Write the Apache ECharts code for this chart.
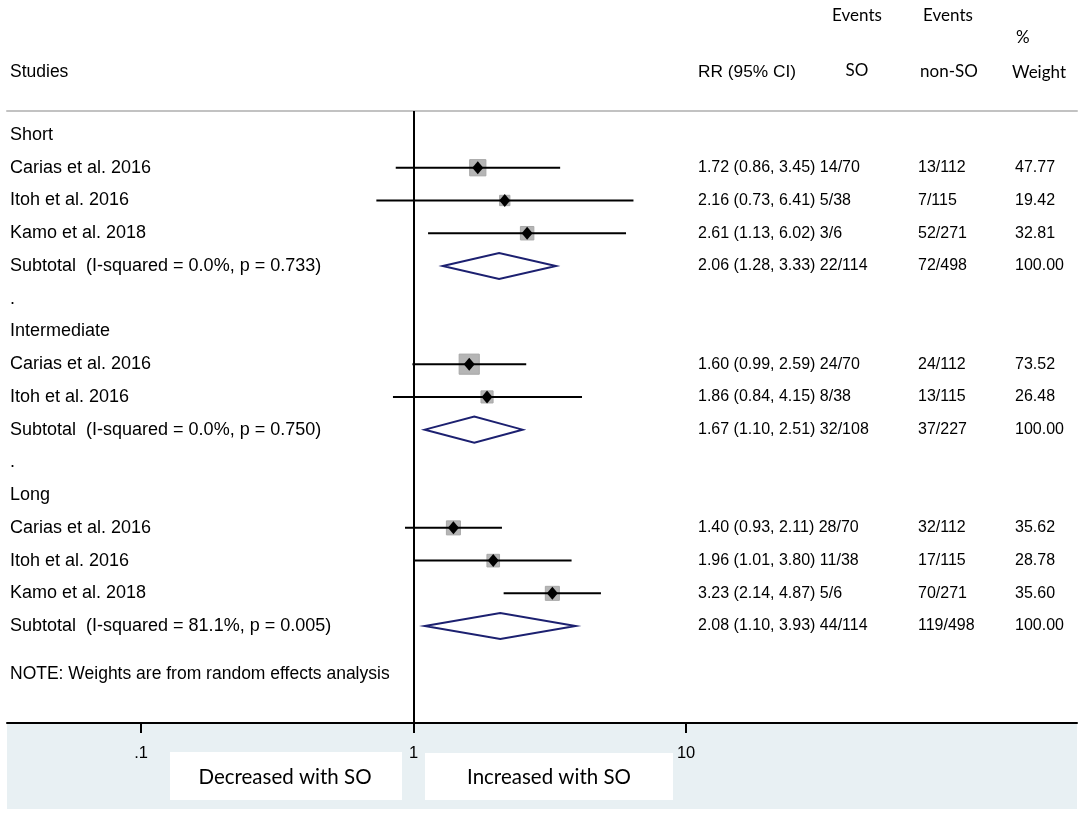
<!DOCTYPE html>
<html>
<head>
<meta charset="utf-8">
<script src="https://cdn.jsdelivr.net/npm/echarts@6/dist/echarts.min.js"></script>
<style>
html,body{margin:0;padding:0;background:#fff;}
#chart{width:1084px;height:816px;}
</style>
</head>
<body>
<div id="chart"></div>
<script>
// ---- data ----
const groupNames = ['Short', 'Intermediate', 'Long'];
const studyNames = ['Carias et al. 2016', 'Itoh et al. 2016', 'Kamo et al. 2018',
                    'Carias et al. 2016', 'Itoh et al. 2016',
                    'Carias et al. 2016', 'Itoh et al. 2016', 'Kamo et al. 2018'];
const studyGroup = [0, 0, 0, 1, 1, 2, 2, 2];
const studyRR = [1.72, 2.16, 2.61, 1.60, 1.86, 1.40, 1.96, 3.23];
const studyLo = [0.86, 0.73, 1.13, 0.99, 0.84, 0.93, 1.01, 2.14];
const studyHi = [3.45, 6.41, 6.02, 2.59, 4.15, 2.11, 3.80, 4.87];
const studyWeight = [47.77, 19.42, 32.81, 73.52, 26.48, 35.62, 28.78, 35.60];
const studyEventsSO = ['14/70', '5/38', '3/6', '24/70', '8/38', '28/70', '11/38', '5/6'];
const studyEventsNonSO = ['13/112', '7/115', '52/271', '24/112', '13/115', '32/112', '17/115', '70/271'];

const subtotalLabels = ['Subtotal  (I-squared = 0.0%, p = 0.733)',
                        'Subtotal  (I-squared = 0.0%, p = 0.750)',
                        'Subtotal  (I-squared = 81.1%, p = 0.005)'];
const subRR = [2.06, 1.67, 2.08];
const subLo = [1.28, 1.10, 1.10];
const subHi = [3.33, 2.51, 3.93];
const subEventsSO = ['22/114', '32/108', '44/114'];
const subEventsNonSO = ['72/498', '37/227', '119/498'];
const subWeight = [100.00, 100.00, 100.00];

const tickValues = [0.1, 1, 10];
const tickLabels = ['.1', '1', '10'];
const noteText = 'NOTE: Weights are from random effects analysis';
const leftLabel = 'Decreased with SO';
const rightLabel = 'Increased with SO';

// ---- build rows ----
const textRows = [];   // {row, label, ci, non, w}
const studyPoints = []; // [rr, lo, hi, row, weight]
const subPoints = [];   // [rr, lo, hi, row]
let r = 0;
const fmtCI = (a, b, c) => a.toFixed(2) + ' (' + b.toFixed(2) + ', ' + c.toFixed(2) + ')';
groupNames.forEach((g, gi) => {
  textRows.push({row: r, label: g}); r++;
  studyNames.forEach((s, i) => {
    if (studyGroup[i] !== gi) return;
    textRows.push({row: r, label: s, ci: fmtCI(studyRR[i], studyLo[i], studyHi[i]) + ' ' + studyEventsSO[i],
                   non: studyEventsNonSO[i], w: studyWeight[i].toFixed(2)});
    studyPoints.push([studyRR[i], studyLo[i], studyHi[i], r, studyWeight[i]]);
    r++;
  });
  textRows.push({row: r, label: subtotalLabels[gi], ci: fmtCI(subRR[gi], subLo[gi], subHi[gi]) + ' ' + subEventsSO[gi],
                 non: subEventsNonSO[gi], w: subWeight[gi].toFixed(2)});
  subPoints.push([subRR[gi], subLo[gi], subHi[gi], r]);
  r++;
  if (gi < groupNames.length - 1) { textRows.push({row: r, label: '.'}); r++; }
});
textRows.push({row: r + 0.47, label: noteText, note: true});

// ---- layout constants ----
const X_MIN = 0.0322, X_MAX = 272;
const Y_MIN = -0.733, Y_MAX = 17.96;
const COL_LABEL = 10, COL_CI = 698, COL_NON = 918, COL_W = 1015;
const FONT = '"Liberation Sans", Arial, sans-serif';
const FONT2 = 'Lato, "Open Sans", sans-serif';
const LABEL_SIZE = 18, DATA_SIZE = 16, NOTE_SIZE = 17.5;

const chart = echarts.init(document.getElementById('chart'), null, {renderer: 'canvas'});

const option = {
  animation: false,
  backgroundColor: '#ffffff',
  grid: {left: 7, right: 7, top: 111, bottom: 93, containLabel: false},
  xAxis: [{
    type: 'log', min: X_MIN, max: X_MAX, position: 'bottom',
    axisLine: {show: true, onZero: false, lineStyle: {color: '#000', width: 2}},
    axisTick: {show: true, customValues: tickValues, length: 10, inside: false, lineStyle: {color: '#000', width: 2}},
    axisLabel: {show: true, customValues: tickValues, margin: 22, color: '#000', fontSize: 16.5, fontFamily: FONT,
      formatter: v => { const k = tickValues.findIndex(t => Math.abs(t - v) < 1e-9); return k >= 0 ? tickLabels[k] : ''; }},
    splitLine: {show: false}, minorTick: {show: false}, minorSplitLine: {show: false}
  }, {
    type: 'log', min: X_MIN, max: X_MAX, position: 'top',
    axisLine: {show: true, onZero: false, lineStyle: {color: '#c2c2c2', width: 2}},
    axisTick: {show: false}, axisLabel: {show: false}, splitLine: {show: false}
  }],
  yAxis: {type: 'value', inverse: true, min: Y_MIN, max: Y_MAX, show: false, splitLine: {show: false}},
  graphic: [
    {type: 'rect', z: -10, shape: {x: 7, y: 724, width: 1070, height: 85}, style: {fill: '#e8f0f3'}},
    {type: 'rect', z: 5, shape: {x: 170, y: 752, width: 232, height: 48}, style: {fill: '#ffffff'}},
    {type: 'rect', z: 5, shape: {x: 425, y: 753, width: 248, height: 47}, style: {fill: '#ffffff'}},
    {type: 'text', z: 6, x: 285, y: 777, style: {text: leftLabel, fill: '#000', fontSize: 20.5, fontFamily: FONT2, align: 'center', verticalAlign: 'middle'}},
    {type: 'text', z: 6, x: 549, y: 777, style: {text: rightLabel, fill: '#000', fontSize: 20.5, fontFamily: FONT2, align: 'center', verticalAlign: 'middle'}},
    {type: 'text', x: 10, y: 72, style: {text: 'Studies', fill: '#000', fontSize: 17.5, fontFamily: FONT, verticalAlign: 'middle'}},
    {type: 'text', x: 698, y: 72, style: {text: 'RR (95% CI)', fill: '#000', fontSize: 17.3, fontFamily: FONT, verticalAlign: 'middle'}},
    {type: 'text', x: 857, y: 16, style: {text: 'Events', fill: '#000', fontSize: 17, fontFamily: FONT2, align: 'center', verticalAlign: 'middle'}},
    {type: 'text', x: 857, y: 71, style: {text: 'SO', fill: '#000', fontSize: 17, fontFamily: FONT2, align: 'center', verticalAlign: 'middle'}},
    {type: 'text', x: 948, y: 16, style: {text: 'Events', fill: '#000', fontSize: 17, fontFamily: FONT2, align: 'center', verticalAlign: 'middle'}},
    {type: 'text', x: 949, y: 72, style: {text: 'non-SO', fill: '#000', fontSize: 17, fontFamily: FONT2, align: 'center', verticalAlign: 'middle'}},
    {type: 'text', x: 1016, y: 38, style: {text: '%', fill: '#000', fontSize: 17, fontFamily: FONT2, verticalAlign: 'middle'}},
    {type: 'text', x: 1012, y: 73, style: {text: 'Weight', fill: '#000', fontSize: 17, fontFamily: FONT2, verticalAlign: 'middle'}}
  ],
  series: [
    {
      type: 'custom', name: 'text', xAxisIndex: 0, yAxisIndex: 0, silent: true, clip: false,
      data: textRows.map(t => [1, t.row]),
      renderItem: (params, api) => {
        const t = textRows[params.dataIndex];
        const y = api.coord([1, api.value(1)])[1];
        const children = [{type: 'text', x: COL_LABEL, y: y,
          style: {text: t.label, fill: '#000', fontSize: t.note ? NOTE_SIZE : LABEL_SIZE, fontFamily: FONT, verticalAlign: 'middle'}}];
        if (t.ci) children.push({type: 'text', x: COL_CI, y: y, style: {text: t.ci, fill: '#000', fontSize: DATA_SIZE, fontFamily: FONT, verticalAlign: 'middle'}});
        if (t.non) children.push({type: 'text', x: COL_NON, y: y, style: {text: t.non, fill: '#000', fontSize: DATA_SIZE, fontFamily: FONT, verticalAlign: 'middle'}});
        if (t.w) children.push({type: 'text', x: COL_W, y: y, style: {text: t.w, fill: '#000', fontSize: DATA_SIZE, fontFamily: FONT, verticalAlign: 'middle'}});
        return {type: 'group', children: children};
      }
    },
    {
      type: 'custom', name: 'studies', xAxisIndex: 0, yAxisIndex: 0, silent: true, clip: false, z: 3,
      data: studyPoints,
      renderItem: (params, api) => {
        const rr = api.value(0), lo = api.value(1), hi = api.value(2), row = api.value(3), w = api.value(4);
        const pL = api.coord([lo, row]), pR = api.coord([hi, row]), pC = api.coord([rr, row]);
        const side = 2.35 * Math.sqrt(w);
        return {type: 'group', children: [
          {type: 'rect', shape: {x: pC[0] - side / 2, y: pC[1] - side / 2, width: side, height: side},
            style: {fill: '#b5b5b5', stroke: '#a8a8a8', lineWidth: 1}},
          {type: 'line', shape: {x1: pL[0], y1: pL[1], x2: pR[0], y2: pR[1]}, style: {stroke: '#000', lineWidth: 2}},
          {type: 'polygon', shape: {points: [[pC[0] - 5.5, pC[1]], [pC[0], pC[1] - 6.5], [pC[0] + 5.5, pC[1]], [pC[0], pC[1] + 6.5]]},
            style: {fill: '#000'}}
        ]};
      },
      markLine: {silent: true, symbol: 'none', label: {show: false},
        lineStyle: {color: '#000', width: 2, type: 'solid'}, data: [{xAxis: 1}]}
    },
    {
      type: 'custom', name: 'subtotals', xAxisIndex: 0, yAxisIndex: 0, silent: true, clip: false, z: 3,
      data: subPoints,
      renderItem: (params, api) => {
        const rr = api.value(0), lo = api.value(1), hi = api.value(2), row = api.value(3);
        const pL = api.coord([lo, row]), pR = api.coord([hi, row]), pC = api.coord([rr, row]);
        const h = 13;
        return {type: 'polygon', shape: {points: [[pL[0], pL[1]], [pC[0], pC[1] - h], [pR[0], pR[1]], [pC[0], pC[1] + h]]},
          style: {fill: 'none', stroke: '#1c2070', lineWidth: 2}};
      }
    }
  ]
};
chart.setOption(option);
</script>
</body>
</html>
